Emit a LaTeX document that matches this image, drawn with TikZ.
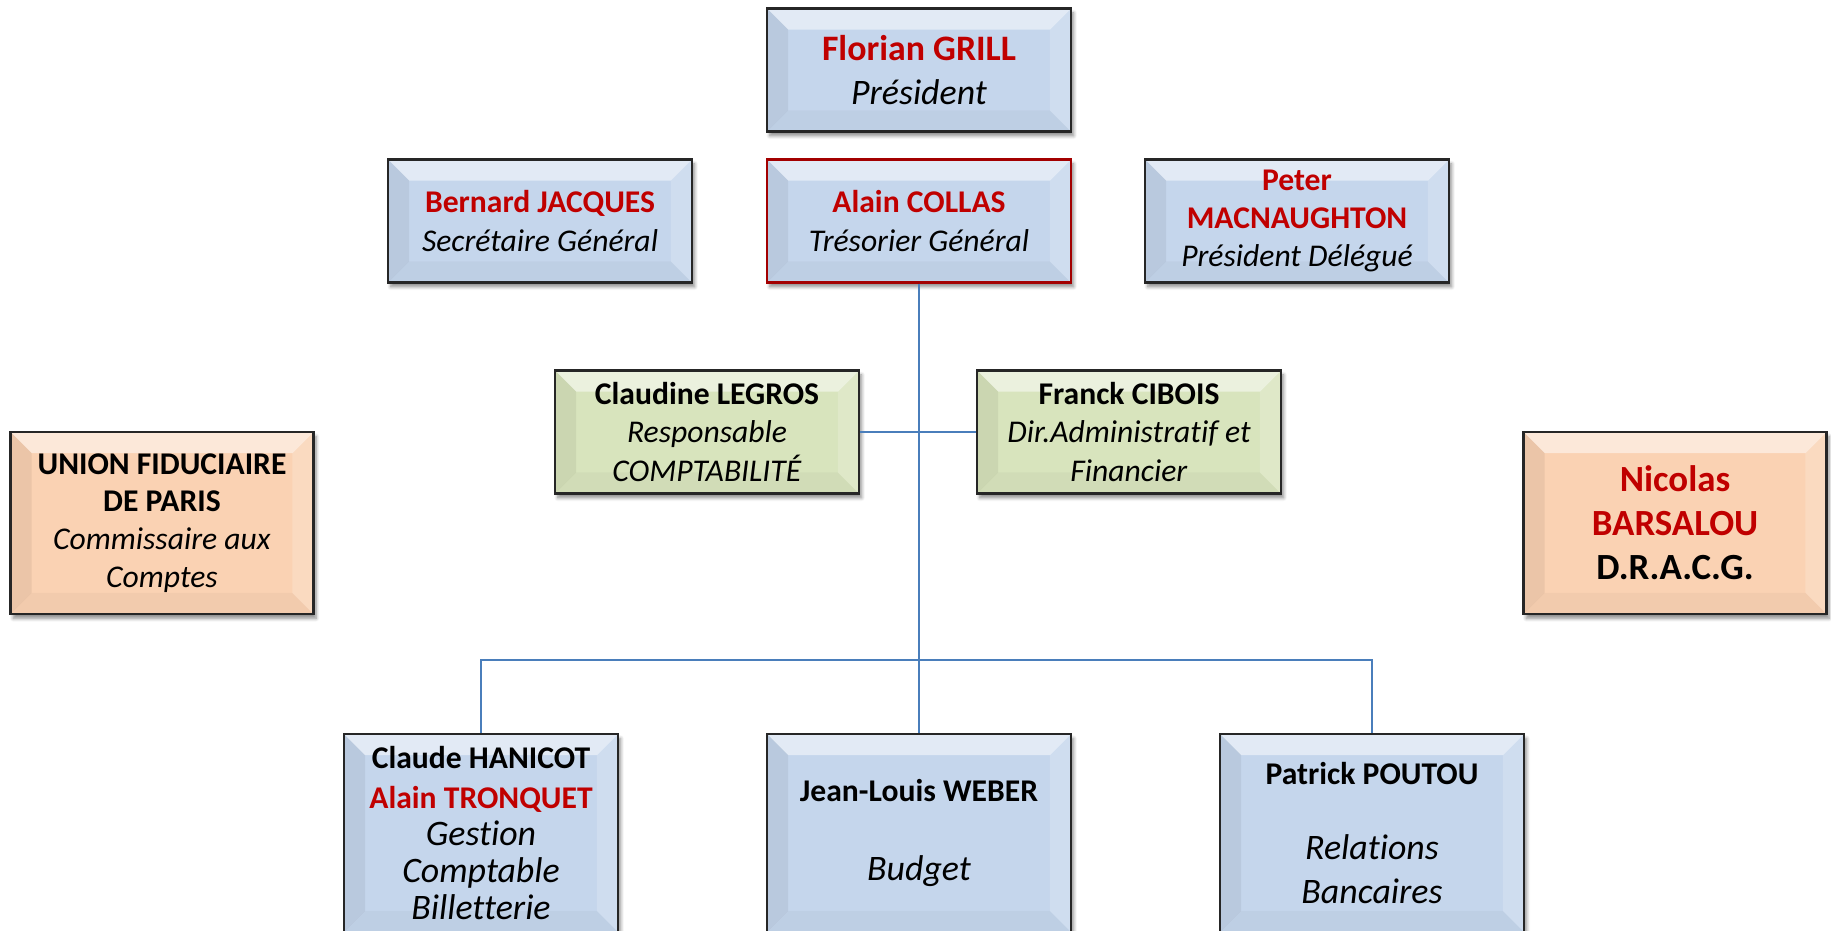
\documentclass[tikz,border=0pt]{standalone}
\usepackage{fontspec}
\setmainfont{Carlito}[Ligatures=NoCommon]
\usetikzlibrary{shadows.blur}

\definecolor{bleu}{HTML}{C5D6EC}
\definecolor{vert}{HTML}{D8E4BD}
\definecolor{peche}{HTML}{FAD2B3}
\definecolor{rouge}{HTML}{C00000}
\definecolor{trait}{HTML}{4A7EBB}

\newcommand{\rg}[1]{\textcolor{rouge}{#1}}
\newcommand{\pbb}{path picture bounding box}
\newlength{\bv}\setlength{\bv}{12pt}

\tikzset{
  biseau/.style={rectangle, draw=black!85, line width=1.3pt, align=center, inner sep=2pt,
    blur shadow={shadow xshift=1.5pt, shadow yshift=-2.5pt, shadow opacity=45, shadow blur steps=6},
    path picture={
      \fill[white,opacity=.5] (\pbb.north west) -- (\pbb.north east)
        -- ([xshift=-\bv,yshift=-\bv]\pbb.north east) -- ([xshift=\bv,yshift=-\bv]\pbb.north west) -- cycle;
      \fill[black,opacity=.06] (\pbb.north west) -- ([xshift=\bv,yshift=-\bv]\pbb.north west)
        -- ([xshift=\bv,yshift=\bv]\pbb.south west) -- (\pbb.south west) -- cycle;
      \fill[white,opacity=.18] (\pbb.north east) -- ([xshift=-\bv,yshift=-\bv]\pbb.north east)
        -- ([xshift=-\bv,yshift=\bv]\pbb.south east) -- (\pbb.south east) -- cycle;
      \fill[black,opacity=.03] (\pbb.south west) -- ([xshift=\bv,yshift=\bv]\pbb.south west)
        -- ([xshift=-\bv,yshift=\bv]\pbb.south east) -- (\pbb.south east) -- cycle;
    }},
  membre/.style={biseau, fill=bleu, minimum width=6.08cm, minimum height=2.46cm,
    font=\fontsize{18}{22}\selectfont},
  pole/.style={biseau, fill=vert, minimum width=6.08cm, minimum height=2.46cm,
    font=\fontsize{18}{22}\selectfont},
  externe/.style={biseau, fill=peche, minimum width=6.06cm, minimum height=3.64cm,
    font=\fontsize{18}{21.5}\selectfont},
  service/.style={biseau, fill=bleu, minimum width=6.08cm, minimum height=3.96cm,
    font=\fontsize{18}{21}\selectfont},
  lien/.style={draw=trait, line width=0.9pt}
}

\begin{document}
\begin{tikzpicture}[x=0.02cm,y=-0.02cm]
\path[use as bounding box,clip] (0,0) rectangle (1831,930);

\node[membre, font=\fontsize{20.4}{25}\selectfont]
                        (pres)  at (919,70)   {\textbf{\rg{Florian GRILL}}\\\textit{Président}};
\node[membre]           (secr)  at (540,221)  {\textbf{\rg{Bernard JACQUES}}\\\textit{Secrétaire Général}};
\node[membre, draw=rouge!85!black]
                        (tres)  at (919,221)  {\textbf{\rg{Alain COLLAS}}\\\textit{Trésorier Général}};
\node[membre, font=\fontsize{18}{21.5}\selectfont]
                        (pdel)  at (1297,221) {\textbf{\rg{Peter}}\\\textbf{\rg{MACNAUGHTON}}\\\textit{Président Délégué}};
\node[pole]             (compta) at (707,432) {\textbf{Claudine LEGROS}\\\textit{Responsable}\\\textit{COMPTABILITÉ}};
\node[pole]             (daf)   at (1129,432) {\textbf{Franck CIBOIS}\\\textit{Dir.Administratif et}\\\textit{Financier}};
\node[externe]          (ufp)   at (162,523)  {\textbf{UNION FIDUCIAIRE}\\\textbf{DE PARIS}\\\textit{Commissaire aux}\\\textit{Comptes}};
\node[externe, font=\fontsize{21}{25}\selectfont]
                        (dracg) at (1675,523) {\textbf{\rg{Nicolas}}\\\textbf{\rg{BARSALOU}}\\\textbf{D.R.A.C.G.}};
\node[service, minimum width=5.48cm]
                        (billet) at (481,833) {\textbf{Claude HANICOT}\\[2pt]\textbf{\rg{Alain TRONQUET}}\\
                          {\fontsize{20.4}{19.5}\selectfont\itshape Gestion}\\{\fontsize{20.4}{19.5}\selectfont\itshape Comptable}\\
                          {\fontsize{20.4}{19.5}\selectfont\itshape Billetterie}};
\node[service]          (budget) at (919,833) {\textbf{Jean-Louis WEBER}\\[24pt]{\fontsize{20.4}{24}\selectfont\itshape Budget}};
\node[service]          (banque) at (1372,833) {\textbf{Patrick POUTOU}\\[22pt]{\fontsize{20.4}{24}\selectfont\itshape Relations}\\[4pt]
                          {\fontsize{20.4}{24}\selectfont\itshape Bancaires}};

\coordinate (bus) at (919,660);
\path[lien] (tres) edge (budget);
\path[lien] (compta) edge (daf);
\draw[lien] (billet.north) |- (bus) -| (banque.north);
\end{tikzpicture}
\end{document}
